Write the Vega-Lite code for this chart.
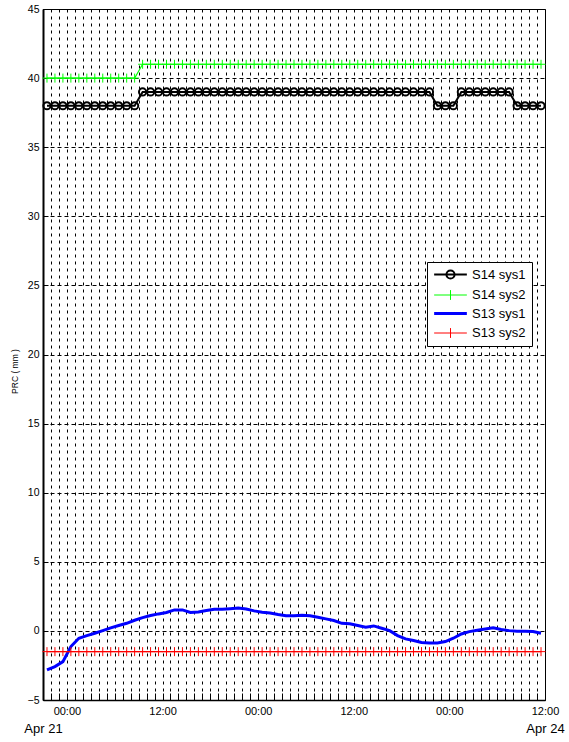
{
  "$schema": "https://vega.github.io/schema/vega-lite/v6.json",
  "width": 502,
  "height": 691,
  "autosize": "none",
  "padding": {"left": 43, "top": 9, "right": 24, "bottom": 42},
  "background": "white",
  "config": {"font": "Liberation Sans", "view": {"stroke": "#000", "strokeWidth": 1}},
  "data": {"values": [
    {"t": "2013-04-21T21:30:00Z", "S14 sys1": 38, "S14 sys2": 40, "S13 sys1": -2.82, "S13 sys2": -1.5},
    {"t": "2013-04-21T22:30:00Z", "S14 sys1": 38, "S14 sys2": 40, "S13 sys1": -2.58, "S13 sys2": -1.5},
    {"t": "2013-04-21T23:30:00Z", "S14 sys1": 38, "S14 sys2": 40, "S13 sys1": -2.22, "S13 sys2": -1.5},
    {"t": "2013-04-22T00:30:00Z", "S14 sys1": 38, "S14 sys2": 40, "S13 sys1": -1.13, "S13 sys2": -1.5},
    {"t": "2013-04-22T01:30:00Z", "S14 sys1": 38, "S14 sys2": 40, "S13 sys1": -0.53, "S13 sys2": -1.5},
    {"t": "2013-04-22T02:30:00Z", "S14 sys1": 38, "S14 sys2": 40, "S13 sys1": -0.34, "S13 sys2": -1.5},
    {"t": "2013-04-22T03:30:00Z", "S14 sys1": 38, "S14 sys2": 40, "S13 sys1": -0.17, "S13 sys2": -1.5},
    {"t": "2013-04-22T04:30:00Z", "S14 sys1": 38, "S14 sys2": 40, "S13 sys1": 0.02, "S13 sys2": -1.5},
    {"t": "2013-04-22T05:30:00Z", "S14 sys1": 38, "S14 sys2": 40, "S13 sys1": 0.22, "S13 sys2": -1.5},
    {"t": "2013-04-22T06:30:00Z", "S14 sys1": 38, "S14 sys2": 40, "S13 sys1": 0.39, "S13 sys2": -1.5},
    {"t": "2013-04-22T07:30:00Z", "S14 sys1": 38, "S14 sys2": 40, "S13 sys1": 0.55, "S13 sys2": -1.5},
    {"t": "2013-04-22T08:30:00Z", "S14 sys1": 38, "S14 sys2": 40, "S13 sys1": 0.77, "S13 sys2": -1.5},
    {"t": "2013-04-22T09:30:00Z", "S14 sys1": 39, "S14 sys2": 41, "S13 sys1": 0.96, "S13 sys2": -1.5},
    {"t": "2013-04-22T10:30:00Z", "S14 sys1": 39, "S14 sys2": 41, "S13 sys1": 1.11, "S13 sys2": -1.5},
    {"t": "2013-04-22T11:30:00Z", "S14 sys1": 39, "S14 sys2": 41, "S13 sys1": 1.23, "S13 sys2": -1.5},
    {"t": "2013-04-22T12:30:00Z", "S14 sys1": 39, "S14 sys2": 41, "S13 sys1": 1.33, "S13 sys2": -1.5},
    {"t": "2013-04-22T13:30:00Z", "S14 sys1": 39, "S14 sys2": 41, "S13 sys1": 1.52, "S13 sys2": -1.5},
    {"t": "2013-04-22T14:30:00Z", "S14 sys1": 39, "S14 sys2": 41, "S13 sys1": 1.52, "S13 sys2": -1.5},
    {"t": "2013-04-22T15:30:00Z", "S14 sys1": 39, "S14 sys2": 41, "S13 sys1": 1.33, "S13 sys2": -1.5},
    {"t": "2013-04-22T16:30:00Z", "S14 sys1": 39, "S14 sys2": 41, "S13 sys1": 1.37, "S13 sys2": -1.5},
    {"t": "2013-04-22T17:30:00Z", "S14 sys1": 39, "S14 sys2": 41, "S13 sys1": 1.47, "S13 sys2": -1.5},
    {"t": "2013-04-22T18:30:00Z", "S14 sys1": 39, "S14 sys2": 41, "S13 sys1": 1.57, "S13 sys2": -1.5},
    {"t": "2013-04-22T19:30:00Z", "S14 sys1": 39, "S14 sys2": 41, "S13 sys1": 1.57, "S13 sys2": -1.5},
    {"t": "2013-04-22T20:30:00Z", "S14 sys1": 39, "S14 sys2": 41, "S13 sys1": 1.61, "S13 sys2": -1.5},
    {"t": "2013-04-22T21:30:00Z", "S14 sys1": 39, "S14 sys2": 41, "S13 sys1": 1.66, "S13 sys2": -1.5},
    {"t": "2013-04-22T22:30:00Z", "S14 sys1": 39, "S14 sys2": 41, "S13 sys1": 1.59, "S13 sys2": -1.5},
    {"t": "2013-04-22T23:30:00Z", "S14 sys1": 39, "S14 sys2": 41, "S13 sys1": 1.45, "S13 sys2": -1.5},
    {"t": "2013-04-23T00:30:00Z", "S14 sys1": 39, "S14 sys2": 41, "S13 sys1": 1.35, "S13 sys2": -1.5},
    {"t": "2013-04-23T01:30:00Z", "S14 sys1": 39, "S14 sys2": 41, "S13 sys1": 1.30, "S13 sys2": -1.5},
    {"t": "2013-04-23T02:30:00Z", "S14 sys1": 39, "S14 sys2": 41, "S13 sys1": 1.18, "S13 sys2": -1.5},
    {"t": "2013-04-23T03:30:00Z", "S14 sys1": 39, "S14 sys2": 41, "S13 sys1": 1.09, "S13 sys2": -1.5},
    {"t": "2013-04-23T04:30:00Z", "S14 sys1": 39, "S14 sys2": 41, "S13 sys1": 1.09, "S13 sys2": -1.5},
    {"t": "2013-04-23T05:30:00Z", "S14 sys1": 39, "S14 sys2": 41, "S13 sys1": 1.13, "S13 sys2": -1.5},
    {"t": "2013-04-23T06:30:00Z", "S14 sys1": 39, "S14 sys2": 41, "S13 sys1": 1.09, "S13 sys2": -1.5},
    {"t": "2013-04-23T07:30:00Z", "S14 sys1": 39, "S14 sys2": 41, "S13 sys1": 0.99, "S13 sys2": -1.5},
    {"t": "2013-04-23T08:30:00Z", "S14 sys1": 39, "S14 sys2": 41, "S13 sys1": 0.87, "S13 sys2": -1.5},
    {"t": "2013-04-23T09:30:00Z", "S14 sys1": 39, "S14 sys2": 41, "S13 sys1": 0.75, "S13 sys2": -1.5},
    {"t": "2013-04-23T10:30:00Z", "S14 sys1": 39, "S14 sys2": 41, "S13 sys1": 0.55, "S13 sys2": -1.5},
    {"t": "2013-04-23T11:30:00Z", "S14 sys1": 39, "S14 sys2": 41, "S13 sys1": 0.51, "S13 sys2": -1.5},
    {"t": "2013-04-23T12:30:00Z", "S14 sys1": 39, "S14 sys2": 41, "S13 sys1": 0.39, "S13 sys2": -1.5},
    {"t": "2013-04-23T13:30:00Z", "S14 sys1": 39, "S14 sys2": 41, "S13 sys1": 0.27, "S13 sys2": -1.5},
    {"t": "2013-04-23T14:30:00Z", "S14 sys1": 39, "S14 sys2": 41, "S13 sys1": 0.36, "S13 sys2": -1.5},
    {"t": "2013-04-23T15:30:00Z", "S14 sys1": 39, "S14 sys2": 41, "S13 sys1": 0.19, "S13 sys2": -1.5},
    {"t": "2013-04-23T16:30:00Z", "S14 sys1": 39, "S14 sys2": 41, "S13 sys1": 0.02, "S13 sys2": -1.5},
    {"t": "2013-04-23T17:30:00Z", "S14 sys1": 39, "S14 sys2": 41, "S13 sys1": -0.34, "S13 sys2": -1.5},
    {"t": "2013-04-23T18:30:00Z", "S14 sys1": 39, "S14 sys2": 41, "S13 sys1": -0.58, "S13 sys2": -1.5},
    {"t": "2013-04-23T19:30:00Z", "S14 sys1": 39, "S14 sys2": 41, "S13 sys1": -0.70, "S13 sys2": -1.5},
    {"t": "2013-04-23T20:30:00Z", "S14 sys1": 39, "S14 sys2": 41, "S13 sys1": -0.84, "S13 sys2": -1.5},
    {"t": "2013-04-23T21:30:00Z", "S14 sys1": 39, "S14 sys2": 41, "S13 sys1": -0.87, "S13 sys2": -1.5},
    {"t": "2013-04-23T22:30:00Z", "S14 sys1": 38, "S14 sys2": 41, "S13 sys1": -0.87, "S13 sys2": -1.5},
    {"t": "2013-04-23T23:30:00Z", "S14 sys1": 38, "S14 sys2": 41, "S13 sys1": -0.77, "S13 sys2": -1.5},
    {"t": "2013-04-24T00:30:00Z", "S14 sys1": 38, "S14 sys2": 41, "S13 sys1": -0.53, "S13 sys2": -1.5},
    {"t": "2013-04-24T01:30:00Z", "S14 sys1": 39, "S14 sys2": 41, "S13 sys1": -0.22, "S13 sys2": -1.5},
    {"t": "2013-04-24T02:30:00Z", "S14 sys1": 39, "S14 sys2": 41, "S13 sys1": -0.05, "S13 sys2": -1.5},
    {"t": "2013-04-24T03:30:00Z", "S14 sys1": 39, "S14 sys2": 41, "S13 sys1": 0.05, "S13 sys2": -1.5},
    {"t": "2013-04-24T04:30:00Z", "S14 sys1": 39, "S14 sys2": 41, "S13 sys1": 0.14, "S13 sys2": -1.5},
    {"t": "2013-04-24T05:30:00Z", "S14 sys1": 39, "S14 sys2": 41, "S13 sys1": 0.22, "S13 sys2": -1.5},
    {"t": "2013-04-24T06:30:00Z", "S14 sys1": 39, "S14 sys2": 41, "S13 sys1": 0.10, "S13 sys2": -1.5},
    {"t": "2013-04-24T07:30:00Z", "S14 sys1": 39, "S14 sys2": 41, "S13 sys1": 0.02, "S13 sys2": -1.5},
    {"t": "2013-04-24T08:30:00Z", "S14 sys1": 38, "S14 sys2": 41, "S13 sys1": -0.03, "S13 sys2": -1.5},
    {"t": "2013-04-24T09:30:00Z", "S14 sys1": 38, "S14 sys2": 41, "S13 sys1": -0.03, "S13 sys2": -1.5},
    {"t": "2013-04-24T10:30:00Z", "S14 sys1": 38, "S14 sys2": 41, "S13 sys1": -0.05, "S13 sys2": -1.5},
    {"t": "2013-04-24T11:30:00Z", "S14 sys1": 38, "S14 sys2": 41, "S13 sys1": -0.17, "S13 sys2": -1.5}
  ]},
  "transform": [{"fold": ["S14 sys1", "S14 sys2", "S13 sys1", "S13 sys2"], "as": ["series", "v"]}],
  "resolve": {"axis": {"x": "independent"}},
  "layer": [
    {
      "mark": {"type": "line"},
      "encoding": {
        "x": {"field": "t", "type": "temporal",
          "scale": {"type": "utc", "domain": [1366578000000, 1366804800000]},
          "axis": {"title": null, "orient": "bottom",
            "values": [1366578000000, 1366581600000, 1366585200000, 1366588800000, 1366592400000, 1366596000000, 1366599600000, 1366603200000, 1366606800000, 1366610400000, 1366614000000, 1366617600000, 1366621200000, 1366624800000, 1366628400000, 1366632000000, 1366635600000, 1366639200000, 1366642800000, 1366646400000, 1366650000000, 1366653600000, 1366657200000, 1366660800000, 1366664400000, 1366668000000, 1366671600000, 1366675200000, 1366678800000, 1366682400000, 1366686000000, 1366689600000, 1366693200000, 1366696800000, 1366700400000, 1366704000000, 1366707600000, 1366711200000, 1366714800000, 1366718400000, 1366722000000, 1366725600000, 1366729200000, 1366732800000, 1366736400000, 1366740000000, 1366743600000, 1366747200000, 1366750800000, 1366754400000, 1366758000000, 1366761600000, 1366765200000, 1366768800000, 1366772400000, 1366776000000, 1366779600000, 1366783200000, 1366786800000, 1366790400000, 1366794000000, 1366797600000, 1366801200000, 1366804800000],
            "labelExpr": "utchours(datum.value) % 12 === 0 ? utcFormat(datum.value, '%H:%M') : ''",
            "labelOverlap": false, "labelFlush": false, "labelFontSize": 11, "labelColor": "#000",
            "tickColor": "#000", "tickSize": -7, "tickWidth": 1, "labelPadding": 12,
            "grid": true, "gridColor": "#000", "gridDash": [3, 4], "gridOpacity": 1, "gridWidth": 1,
            "domainColor": "#000", "domainWidth": 1.5}},
        "y": {"field": "v", "type": "quantitative",
          "scale": {"domain": [-5, 45], "nice": false, "zero": false},
          "axis": {"title": "PRC ( mm )", "values": [-5, 0, 5, 10, 15, 20, 25, 30, 35, 40, 45],
            "grid": true, "gridColor": "#000", "gridDash": [4, 3], "gridOpacity": 1, "gridWidth": 1,
            "tickColor": "#000", "tickSize": -5, "labelPadding": 9, "labelFontSize": 10.5, "labelColor": "#000",
            "domainColor": "#000", "domainWidth": 2,
            "titleFontSize": 8.5, "titleFontWeight": "normal", "titleColor": "#000", "titlePadding": 8, "titleY": 362}},
        "color": {"field": "series", "type": "nominal",
          "scale": {"domain": ["S14 sys1", "S14 sys2", "S13 sys1", "S13 sys2"], "range": ["#000000", "#00ff00", "#0000ff", "#ff0000"]},
          "legend": {"title": null, "orient": "none", "legendX": 384, "legendY": 253,
            "labelFontSize": 13, "labelColor": "#000", "labelOffset": 15, "symbolOffset": 11,
            "strokeColor": "#000", "fillColor": "#fff", "padding": 6, "rowPadding": 4.5,
            "encode": {
              "symbols": {"update": {
                "size": {"value": 1070},
                "shape": {"signal": "datum.value === 'S14 sys1' ? 'M-1,0H1M-0.25,0A0.25,0.25 0 1,0 0.25,0A0.25,0.25 0 1,0 -0.25,0' : datum.value === 'S13 sys1' ? 'M-1,0H1' : 'M-1,0H1M0,-0.3V0.3'"},
                "strokeWidth": {"signal": "datum.value === 'S13 sys1' ? 3 : datum.value === 'S14 sys1' ? 2 : 1"}}}}}},
        "strokeWidth": {"condition": [{"test": "datum.series === 'S13 sys1'", "value": 3}, {"test": "datum.series === 'S14 sys1'", "value": 2}], "value": 1.1}
      }
    },
    {
      "transform": [{"filter": {"field": "series", "equal": "S14 sys1"}}],
      "mark": {"type": "point", "shape": "circle", "filled": false, "size": 52, "strokeWidth": 2, "opacity": 1},
      "encoding": {
        "x": {"field": "t", "type": "temporal", "axis": null},
        "y": {"field": "v", "type": "quantitative"},
        "color": {"field": "series", "type": "nominal"}
      }
    },
    {
      "transform": [{"filter": {"field": "series", "oneOf": ["S14 sys2", "S13 sys2"]}}],
      "mark": {"type": "point", "shape": "M-1,0H1M0,-1V1", "filled": false, "size": 81, "strokeWidth": 1, "opacity": 1},
      "encoding": {
        "x": {"field": "t", "type": "temporal",
          "axis": {"title": null, "orient": "bottom",
            "values": [1366578000000, 1366804800000],
            "labelExpr": "utcFormat(datum.value, '%b %d')", "ticks": false, "domain": false, "grid": false,
            "labelFontSize": 13, "labelColor": "#000", "labelPadding": 22, "labelFlush": false, "labelOverlap": false}},
        "y": {"field": "v", "type": "quantitative"},
        "color": {"field": "series", "type": "nominal"}
      }
    }
  ]
}
